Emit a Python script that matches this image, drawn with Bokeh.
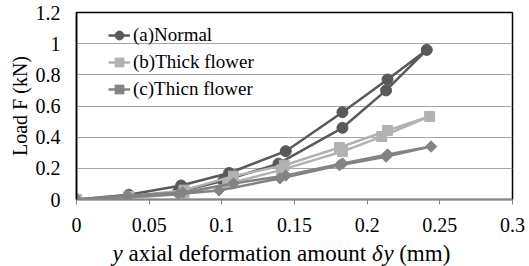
import math
from bokeh.plotting import figure
from bokeh.layouts import column, row
from bokeh.models import (Label, Legend, LegendItem, FixedTicker,
                          NumeralTickFormatter, Range1d)
from bokeh.embed import file_html
from bokeh.resources import INLINE

# ---- data (loading / unloading loops) ----
normal_x = [0, 0.036, 0.072, 0.105, 0.144, 0.183, 0.214, 0.241,
            0.213, 0.183, 0.139, 0.101, 0.070, 0.036, 0]
normal_y = [0, 0.03, 0.09, 0.17, 0.31, 0.56, 0.77, 0.96,
            0.70, 0.46, 0.23, 0.12, 0.05, 0.02, 0]

thick_x = [0, 0.036, 0.074, 0.108, 0.143, 0.181, 0.214, 0.243,
           0.210, 0.183, 0.141, 0.104, 0.074, 0.036, 0]
thick_y = [0, 0.02, 0.06, 0.15, 0.22, 0.334, 0.443, 0.533,
           0.404, 0.308, 0.19, 0.10, 0.035, 0.01, 0]

thicn_x = [0, 0.035, 0.073, 0.108, 0.144, 0.183, 0.214, 0.244,
           0.213, 0.181, 0.140, 0.098, 0.070, 0.035, 0]
thicn_y = [0, 0.026, 0.045, 0.103, 0.154, 0.231, 0.289, 0.34,
           0.275, 0.22, 0.135, 0.058, 0.035, 0.015, 0]

series_labels = ["(a)Normal", "(b)Thick flower", "(c)Thicn flower"]
x_ticks = [0, 0.05, 0.1, 0.15, 0.2, 0.25, 0.3]
y_ticks = [0, 0.2, 0.4, 0.6, 0.8, 1.0, 1.2]
y_title = "Load F (kN)"

FONT = "Liberation Serif, Times New Roman, DejaVu Serif, serif"

# ---------------- main chart ----------------
MAIN_H = 236       # height of the main chart (x-axis title strip below)

p = figure(width=529, height=MAIN_H, output_backend="svg",
           toolbar_location=None,
           x_range=Range1d(0, 0.3), y_range=Range1d(0, 1.2),
           min_border_left=76, min_border_right=17,
           min_border_top=12, min_border_bottom=MAIN_H - 199)

p.background_fill_color = "white"
p.border_fill_color = "white"
p.outline_line_color = "black"
p.outline_line_width = 1.5

p.xaxis.ticker = FixedTicker(ticks=x_ticks)
p.yaxis.ticker = FixedTicker(ticks=y_ticks)
p.xaxis.formatter = NumeralTickFormatter(format="0.[00]")
p.yaxis.formatter = NumeralTickFormatter(format="0.[0]")
for ax in (p.xaxis, p.yaxis):
    ax.major_label_text_font = FONT
    ax.major_label_text_font_size = "20px"
    ax.major_label_text_color = "black"
    ax.minor_tick_line_color = None
    ax.major_tick_in = 0
p.xaxis.axis_line_color = "#868686"
p.xaxis.axis_line_width = 1.5
p.xaxis.major_tick_line_color = "#868686"
p.xaxis.major_tick_out = 5
p.xaxis.major_label_standoff = 13
p.yaxis.axis_line_color = "black"
p.yaxis.axis_line_width = 1.5
p.yaxis.major_tick_out = 0
p.yaxis.major_tick_line_color = None
p.yaxis.major_label_standoff = 16
p.yaxis.axis_label = y_title
p.yaxis.axis_label_text_font = FONT
p.yaxis.axis_label_text_font_size = "20px"
p.yaxis.axis_label_text_font_style = "normal"
p.yaxis.axis_label_text_color = "black"
p.yaxis.axis_label_standoff = 2

p.xgrid.grid_line_color = None
p.ygrid.grid_line_color = "#a6a6a6"
p.ygrid.grid_line_width = 1

colors = ["#595959", "#b2b2b2", "#838383"]
lw = 2.5
r1 = p.line(normal_x, normal_y, line_color=colors[0], line_width=lw)
m1 = p.scatter(normal_x, normal_y, marker="circle", size=11,
               fill_color=colors[0], line_color=colors[0])
r2 = p.line(thick_x, thick_y, line_color=colors[1], line_width=lw)
m2 = p.scatter(thick_x, thick_y, marker="square", size=10,
               fill_color=colors[1], line_color=colors[1])
r3 = p.line(thicn_x, thicn_y, line_color=colors[2], line_width=lw)
m3 = p.scatter(thicn_x, thicn_y, marker="square", size=8, angle=math.pi / 4,
               fill_color=colors[2], line_color=colors[2])

items = [LegendItem(label=series_labels[0], renderers=[r1, m1]),
         LegendItem(label=series_labels[1], renderers=[r2, m2]),
         LegendItem(label=series_labels[2], renderers=[r3, m3])]
legend = Legend(items=items, location=(32, 99), margin=0, padding=0,
                border_line_color=None, background_fill_alpha=0,
                glyph_width=22, glyph_height=22, label_height=22,
                spacing=5, label_standoff=3,
                label_text_font=FONT, label_text_font_size="19px",
                label_text_color="black")
p.add_layout(legend, "center")


def strip(w, h):
    f = figure(width=w, height=h, output_backend="svg", toolbar_location=None,
               x_range=Range1d(0, w), y_range=Range1d(0, h),
               x_axis_location=None, y_axis_location=None,
               min_border=0, min_border_left=0, min_border_right=0,
               min_border_top=0, min_border_bottom=0)
    f.outline_line_color = None
    f.grid.visible = False
    f.background_fill_color = "white"
    f.border_fill_color = "white"
    return f


def lab(f, x, y, text, size, italic=False):
    f.add_layout(Label(x=x, y=y, text=text,
                       text_font=FONT, text_font_size=size,
                       text_font_style="italic" if italic else "normal",
                       text_baseline="alphabetic", text_align="left",
                       text_color="black"))


# ---------------- x-axis title strip (mixed italic) ----------------
XT_H = 266 - MAIN_H
xf = strip(529, XT_H)
xt_size = "23px"
xb = 266 - 253   # baseline height from strip bottom
lab(xf, 112, xb, "y", xt_size, italic=True)
lab(xf, 128, xb, "axial deformation amount", xt_size)
lab(xf, 371.4, xb, "δ", xt_size, italic=True)
lab(xf, 383, xb, "y", xt_size, italic=True)
lab(xf, 398.7, xb, "(mm)", xt_size)

# wrap the chart in a row so the strip's frame is not aligned to the chart's
layout = column(row(p, spacing=0), xf, spacing=0)
open("out.html", "w").write(file_html(layout, INLINE))
